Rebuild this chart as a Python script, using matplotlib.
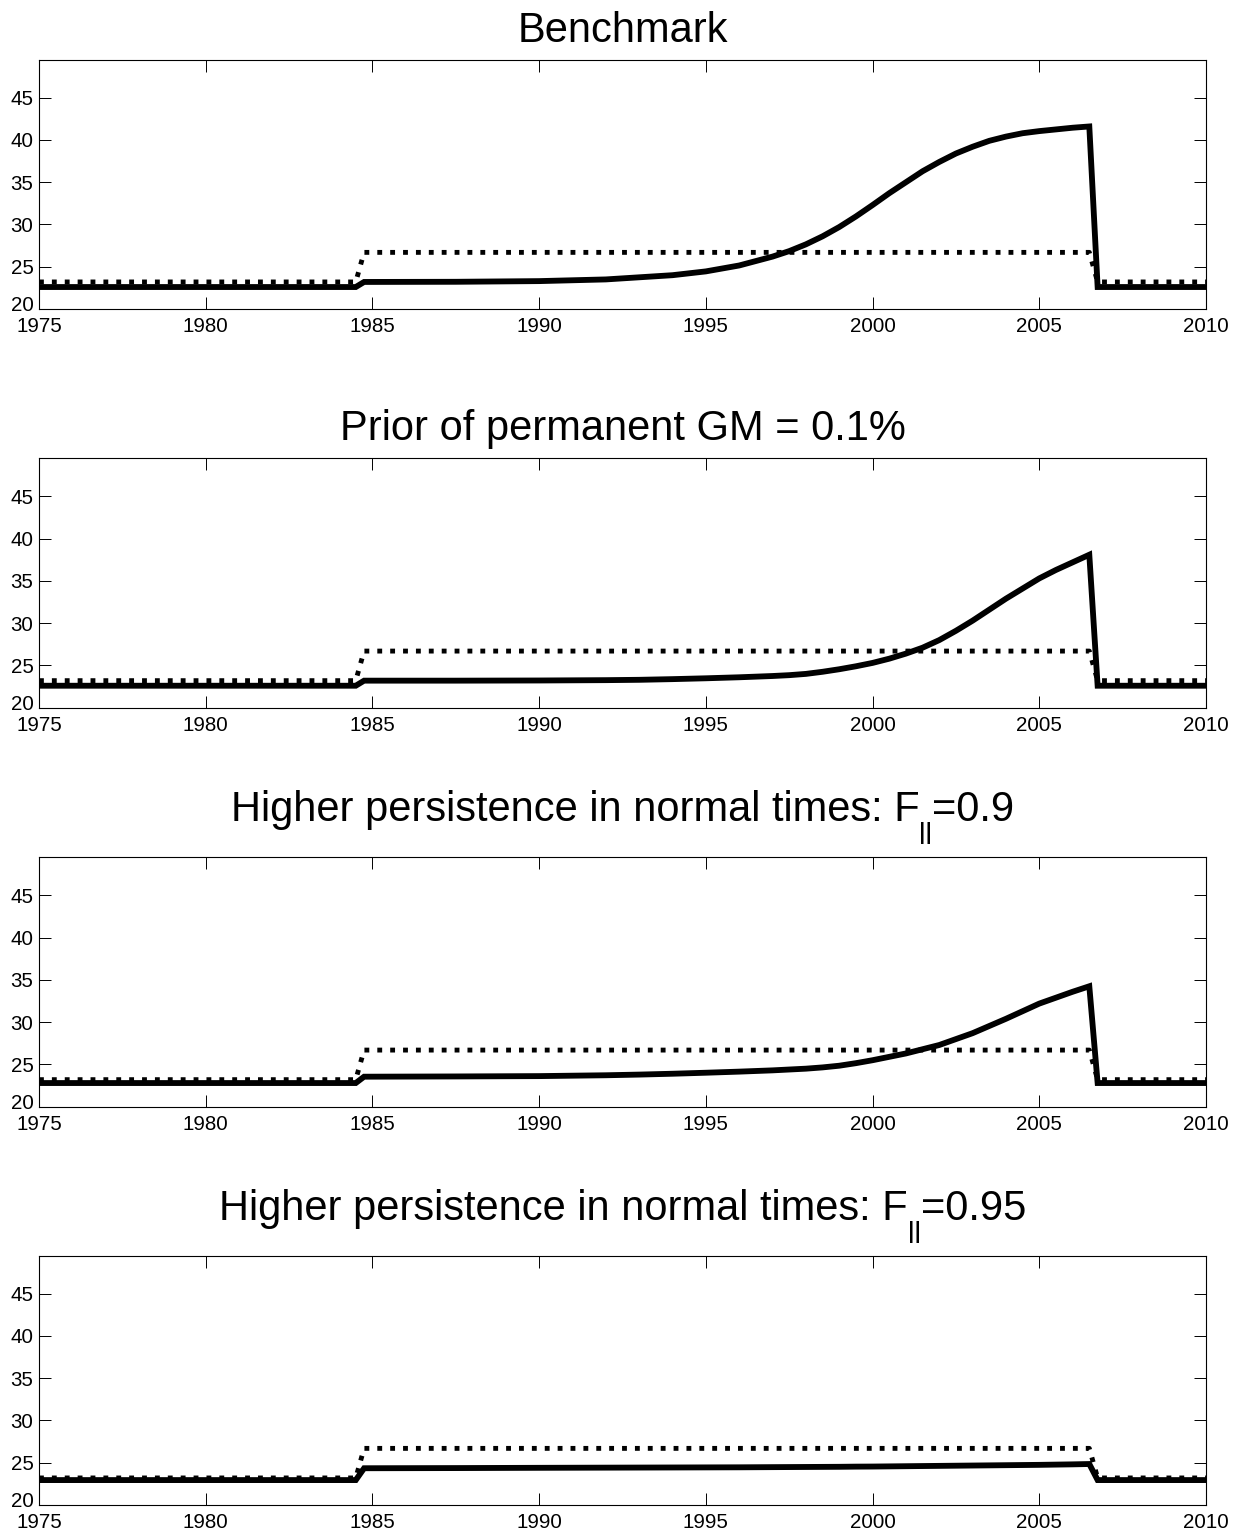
import matplotlib
matplotlib.use("Agg")
import matplotlib.pyplot as plt
from matplotlib.transforms import ScaledTranslation

plt.rcParams['font.family'] = ['Liberation Sans', 'DejaVu Sans']

# ---- data ----
# each title: list of (text, is_subscript)
titles = [
    [("Benchmark", False)],
    [("Prior of permanent GM = 0.1%", False)],
    [("Higher persistence in normal times: F", False), ("ll", True), ("=0.9", False)],
    [("Higher persistence in normal times: F", False), ("ll", True), ("=0.95", False)],
]

years = [1975, 1984.5, 1984.75, 1987.5, 1990, 1992, 1993, 1994, 1995, 1996,
         1997, 1997.5, 1998, 1998.5, 1999, 1999.5, 2000, 2000.5, 2001, 2001.5,
         2002, 2002.5, 2003, 2003.5, 2004, 2004.5, 2005, 2005.5, 2006, 2006.5,
         2006.75, 2010]

benchmark = [22.6, 22.6, 23.2, 23.22, 23.3, 23.5, 23.75, 24.0, 24.45, 25.15,
             26.2, 26.85, 27.65, 28.6, 29.7, 30.95, 32.3, 33.7, 35.0, 36.3,
             37.4, 38.4, 39.2, 39.9, 40.4, 40.8, 41.05, 41.25, 41.45, 41.6,
             22.6, 22.6]

prior_gm = [22.6, 22.6, 23.2, 23.2, 23.22, 23.26, 23.3, 23.38, 23.48, 23.6,
            23.75, 23.85, 24.0, 24.25, 24.55, 24.9, 25.3, 25.8, 26.4, 27.1,
            28.0, 29.1, 30.3, 31.6, 32.9, 34.1, 35.3, 36.3, 37.2, 38.1,
            22.6, 22.6]

persist_090 = [22.8, 22.8, 23.55, 23.58, 23.62, 23.72, 23.8, 23.9, 24.02, 24.15,
               24.3, 24.4, 24.5, 24.65, 24.85, 25.15, 25.5, 25.9, 26.3, 26.8,
               27.3, 28.0, 28.7, 29.55, 30.4, 31.3, 32.2, 32.9, 33.6, 34.25,
               22.8, 22.8]

persist_095 = [22.95, 22.95, 24.35, 24.37, 24.4, 24.42, 24.43, 24.44, 24.45, 24.46,
               24.48, 24.49, 24.5, 24.51, 24.52, 24.54, 24.55, 24.57, 24.59, 24.61,
               24.63, 24.65, 24.67, 24.69, 24.71, 24.73, 24.75, 24.78, 24.81, 24.85,
               22.95, 22.95]

dotted_years = [1975, 1984.5, 1984.75, 2006.5, 2006.75, 2010]
dotted_vals = [23.2, 23.2, 26.7, 26.7, 23.2, 23.2]

series = [benchmark, prior_gm, persist_090, persist_095]

xticks = [1975, 1980, 1985, 1990, 1995, 2000, 2005, 2010]
yticks = [20, 25, 30, 35, 40, 45]

# ---- figure ----
W, H = 1248, 1533
fig = plt.figure(figsize=(W / 100, H / 100), dpi=100)
renderer = fig.canvas.get_renderer()

left_px, right_px = 39, 1206
height_px = 249.3
bottoms_px = [309, 707.7, 1106.7, 1505]
title_gap_px = [18, 18, 36, 36]   # baseline of title above axes top
TITLE_FS = 30
SUB_FS = 21
SUB_DROP_PX = 23

for i, (vals, title) in enumerate(zip(series, titles)):
    ax = fig.add_axes([left_px / W, 1 - bottoms_px[i] / H,
                       (right_px - left_px) / W, height_px / H])
    ax.plot(years, vals, color='black', lw=4.2, solid_joinstyle='miter')
    ax.plot(dotted_years, dotted_vals, color='black', lw=3.5,
            linestyle=(0, (1, 1.65)), dash_capstyle='butt')
    ax.set_xlim(1975, 2010)
    ax.set_ylim(20, 49.5)
    ax.set_xticks(xticks)
    ax.set_yticks(yticks)
    ax.tick_params(direction='in', length=8.8, width=0.7, top=True, right=True,
                   labelsize=14.8, colors='black')
    ax.tick_params(axis='x', pad=6)
    ax.tick_params(axis='y', pad=4)
    for s in ax.spines.values():
        s.set_linewidth(0.8)
        s.set_color('black')
    # the lowest y label sits slightly above its tick, as in the reference
    lbl = ax.get_yticklabels()[0]
    lbl.set_transform(lbl.get_transform() + ScaledTranslation(0, 4 / 72, fig.dpi_scale_trans))

    # composite title (main text + lowered subscript), centred over the axes
    top_px = bottoms_px[i] - height_px
    base_y = H - (top_px - title_gap_px[i])       # pixels from bottom
    texts = []
    widths = []
    for txt, is_sub in title:
        t = fig.text(0, 0, txt, fontsize=SUB_FS if is_sub else TITLE_FS,
                     ha='left', va='baseline', transform=None)
        texts.append((t, is_sub))
        widths.append(t.get_window_extent(renderer).width)
    total = sum(widths)
    x = (left_px + right_px) / 2 - total / 2
    for (t, is_sub), w in zip(texts, widths):
        t.set_position((x, base_y - (SUB_DROP_PX if is_sub else 0)))
        x += w

fig.savefig("out.png", dpi=100, facecolor='white')
